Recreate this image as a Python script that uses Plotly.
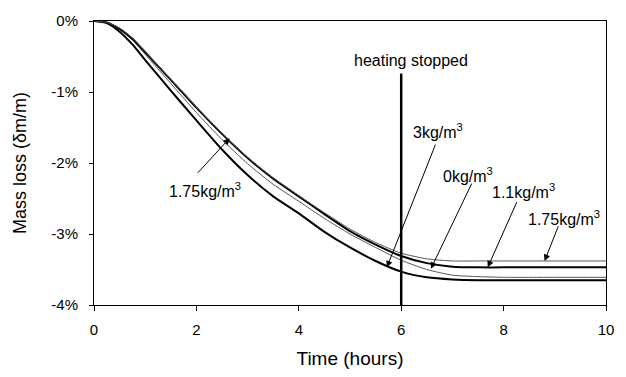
import plotly.graph_objects as go

# ---- data ----
time_h = [0, 0.25, 0.5, 0.75, 1, 1.5, 2, 2.5, 3, 3.5, 4, 4.5, 5, 5.5, 6, 6.5, 7, 7.5, 8, 9, 10]
loss_3kg = [0, -0.03, -0.15, -0.33, -0.55, -0.98, -1.40, -1.81, -2.17, -2.47, -2.71, -2.97, -3.19, -3.38, -3.53, -3.61, -3.64, -3.65, -3.65, -3.65, -3.65]
loss_0kg = [0, -0.02, -0.12, -0.27, -0.47, -0.88, -1.29, -1.67, -2.01, -2.30, -2.54, -2.78, -3.00, -3.19, -3.37, -3.50, -3.58, -3.60, -3.61, -3.61, -3.61]
loss_1_1kg = [0, -0.02, -0.11, -0.25, -0.44, -0.83, -1.22, -1.59, -1.93, -2.22, -2.47, -2.72, -2.96, -3.15, -3.31, -3.41, -3.46, -3.47, -3.47, -3.47, -3.47]
loss_1_75kg = [0, -0.02, -0.10, -0.24, -0.43, -0.82, -1.21, -1.58, -1.92, -2.21, -2.46, -2.70, -2.93, -3.12, -3.27, -3.35, -3.38, -3.38, -3.38, -3.38, -3.38]

heating_stop = 6
heating_line_y = [-0.74, -4.0]

y_ticks = [0, -1, -2, -3, -4]
y_tick_labels = ["0%", "-1%", "-2%", "-3%", "-4%"]
x_ticks = [0, 2, 4, 6, 8, 10]

# label text, label centre (x, y), arrow head (x, y)
labels = [
    ("1.75kg/m<sup>3</sup>", (2.16, -2.38), (2.65, -1.65)),
    ("3kg/m<sup>3</sup>", (6.71, -1.55), (5.72, -3.47)),
    ("0kg/m<sup>3</sup>", (7.31, -2.17), (6.58, -3.49)),
    ("1.1kg/m<sup>3</sup>", (8.38, -2.40), (7.69, -3.47)),
    ("1.75kg/m<sup>3</sup>", (9.18, -2.78), (8.80, -3.38)),
]
arrow_tails = [(2.0, -2.16), (6.68, -1.72), (7.39, -2.27), (8.27, -2.53), (9.08, -2.87)]

FONT = "Liberation Sans, Arial, sans-serif"

fig = go.Figure()
series = [
    (loss_3kg, "black", 2),
    (loss_0kg, "#555555", 1),
    (loss_1_1kg, "black", 2),
    (loss_1_75kg, "#555555", 1),
]
for ys, col, w in series:
    fig.add_trace(go.Scatter(x=time_h, y=ys, mode="lines",
                             line=dict(color=col, width=w, shape="spline", smoothing=0.6),
                             showlegend=False, hoverinfo="skip"))

fig.add_trace(go.Scatter(x=[heating_stop, heating_stop], y=heating_line_y, mode="lines",
                         line=dict(color="black", width=2.5), showlegend=False, hoverinfo="skip"))

fig.add_annotation(x=6.19, y=-0.56, text="heating stopped", showarrow=False,
                   font=dict(family=FONT, size=16, color="black"), xref="x", yref="y")

for (txt, (lx, ly), (hx, hy)), (tx, ty) in zip(labels, arrow_tails):
    fig.add_annotation(x=lx, y=ly, text=txt, showarrow=False,
                       font=dict(family=FONT, size=16, color="black"), xref="x", yref="y")
    fig.add_annotation(x=hx, y=hy, ax=tx, ay=ty, axref="x", ayref="y", xref="x", yref="y",
                       text="", showarrow=True, arrowhead=2, arrowsize=1.3, arrowwidth=1, arrowcolor="black")

fig.update_layout(
    width=626, height=377,
    margin=dict(l=94, r=19, t=16, b=72),
    paper_bgcolor="white", plot_bgcolor="white",
    font=dict(family=FONT, color="black"),
)
fig.update_xaxes(range=[0, 10], tickvals=x_ticks, ticks="outside", ticklen=5, tickcolor="black",
                 showline=True, linecolor="black", linewidth=1, mirror=True, showgrid=False, zeroline=False,
                 ticklabelstandoff=6,
                 tickfont=dict(size=15), title=dict(text="Time (hours)", font=dict(size=19), standoff=14))
fig.update_yaxes(range=[-4, 0], tickvals=y_ticks, ticktext=y_tick_labels, ticks="outside", ticklen=4,
                 tickcolor="black", showline=True, linecolor="black", linewidth=1, mirror=True, showgrid=False,
                 zeroline=False, ticklabelstandoff=8, tickfont=dict(size=15),
                 title=dict(text="Mass loss (δm/m)", font=dict(size=18), standoff=20))

fig.write_html("out.html")
